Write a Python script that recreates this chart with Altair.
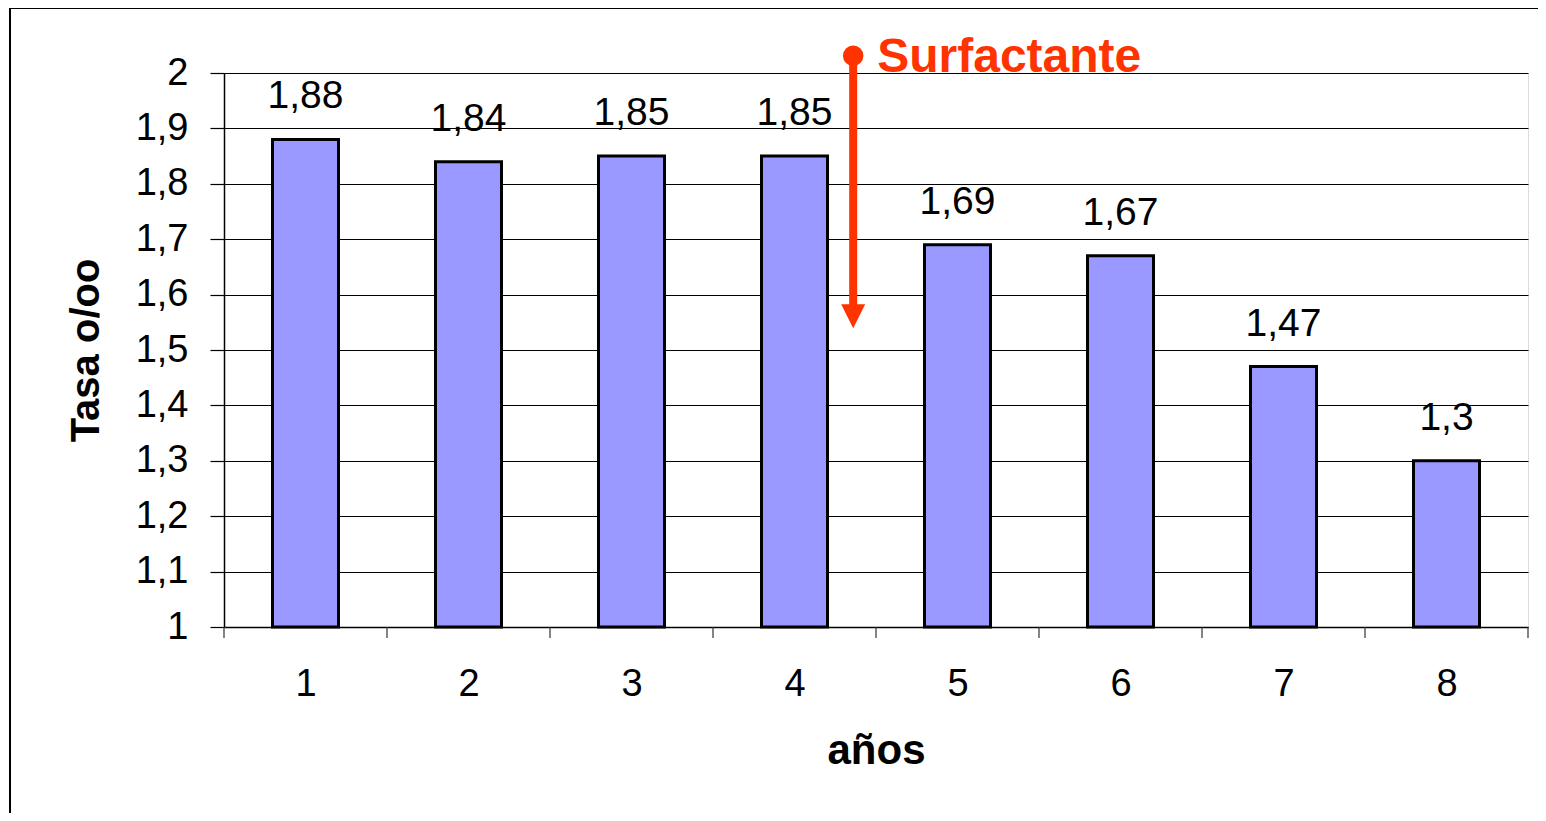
import altair as alt
import pandas as pd

years = [1, 2, 3, 4, 5, 6, 7, 8]
rates = [1.88, 1.84, 1.85, 1.85, 1.69, 1.67, 1.47, 1.30]
y_ticks = [1.0, 1.1, 1.2, 1.3, 1.4, 1.5, 1.6, 1.7, 1.8, 1.9, 2.0]
x_bounds = [0.5, 1.5, 2.5, 3.5, 4.5, 5.5, 6.5, 7.5, 8.5]

# annotation (arrow marking the introduction of surfactant)
arrow_x = [4.36]
arrow_top = [2.031]
arrow_bottom = [1.575]
arrow_head = [1.561]
arrow_label = ["Surfactante"]

FONT = "Liberation Sans"
RED = "#FF3300"

df = pd.DataFrame({"year": years, "rate": rates})
bounds = pd.DataFrame({"b": x_bounds})
ann = pd.DataFrame({"x": arrow_x, "top": arrow_top, "bottom": arrow_bottom,
                    "head": arrow_head, "label": arrow_label})

xscale = alt.Scale(domain=[0.5, 8.5], nice=False, zero=False, padding=0)
yscale = alt.Scale(domain=[1, 2], nice=False, zero=False, padding=0)

x_axis = alt.Axis(values=years, ticks=False, grid=False, labelFontSize=38,
                  labelFont=FONT, labelColor="black", labelPadding=38, format="d",
                  domainColor="black", domainWidth=1.5, offset=0,
                  title="años", titleFont=FONT, titleFontSize=42,
                  titleFontWeight="bold", titleColor="black", titlePadding=27)
y_axis = alt.Axis(values=y_ticks, grid=True, gridColor="black", gridWidth=1,
                  tickColor="black", tickSize=14, tickWidth=1.2, offset=0,
                  labelFontSize=38, labelFont=FONT, labelColor="black",
                  labelPadding=22,
                  labelExpr="replace(format(datum.value, '.1~f'), '.', ',')",
                  domainColor="black", domainWidth=1.5,
                  title="Tasa o/oo", titleFont=FONT, titleFontSize=40,
                  titleFontWeight="bold", titleColor="black", titlePadding=29)

base = alt.Chart(df)

bars = base.mark_bar(color="#9999FF", stroke="black", strokeWidth=3, size=66).encode(
    x=alt.X("year:Q", scale=xscale, axis=x_axis),
    y=alt.Y("rate:Q", scale=yscale, axis=y_axis),
    y2=alt.datum(1),
)

labels = base.mark_text(font=FONT, fontSize=39, baseline="bottom", dy=-23,
                        color="black").transform_calculate(
    lab="replace(format(datum.rate, '.2~f'), '.', ',')"
).encode(
    x=alt.X("year:Q", scale=xscale),
    y=alt.Y("rate:Q", scale=yscale),
    text="lab:N",
)

xticks = alt.Chart(bounds).mark_rule(color="#333333", strokeWidth=1.2).encode(
    x=alt.X("b:Q", scale=xscale),
    y=alt.value(554),
    y2=alt.value(565),
)

annb = alt.Chart(ann)
arrow_line = annb.mark_rule(color=RED, strokeWidth=8).encode(
    x=alt.X("x:Q", scale=xscale),
    y=alt.Y("top:Q", scale=yscale),
    y2="bottom:Q",
)
arrow_dot = annb.mark_point(shape="circle", filled=True, opacity=1, color=RED,
                            size=420).encode(
    x=alt.X("x:Q", scale=xscale),
    y=alt.Y("top:Q", scale=yscale),
)
arrow_tip = annb.mark_point(shape="M -1 -1 L 1 -1 L 0 1 Z", filled=True, opacity=1,
                            color=RED, size=576).encode(
    x=alt.X("x:Q", scale=xscale),
    y=alt.Y("head:Q", scale=yscale),
)
arrow_text = annb.mark_text(font=FONT, fontSize=48, fontWeight="bold", color=RED,
                            align="left", baseline="alphabetic", dx=24, dy=16).encode(
    x=alt.X("x:Q", scale=xscale),
    y=alt.Y("top:Q", scale=yscale),
    text="label:N",
)

outer = alt.Chart(df).mark_rect(fill=None, stroke="black", strokeWidth=1.5).encode(
    x=alt.value(-214), x2=alt.value(1330), y=alt.value(-65), y2=alt.value(780)
)

chart = alt.layer(outer, bars, xticks, labels, arrow_line, arrow_dot, arrow_tip,
                  arrow_text).properties(
    width=1304, height=554,
    padding={"left": 216, "top": 65, "right": 10, "bottom": 186},
    autosize=alt.AutoSizeParams(type="none"),
).configure_view(stroke="#808080", strokeWidth=2.5).configure(background="white")

chart.save("out.html", embed_options={"renderer": "svg", "actions": False})
